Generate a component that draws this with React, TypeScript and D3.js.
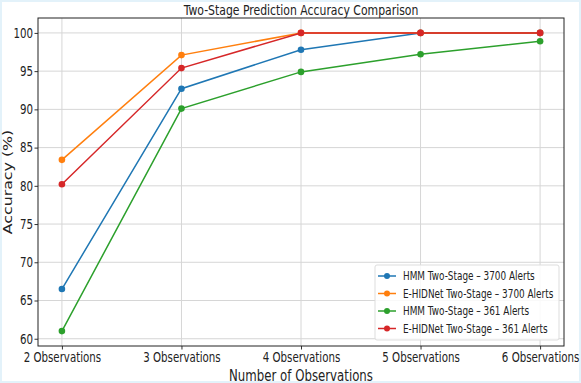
import React, { useEffect, useRef } from "react";
import * as d3 from "d3";

// x categories
const categories = ["2 Observations", "3 Observations", "4 Observations", "5 Observations", "6 Observations"];

// series values (accuracy %)
const hmm3700 = [66.5, 92.7, 97.8, 100, 100];
const ehid3700 = [83.4, 97.1, 100, 100, 100];
const hmm361 = [61.0, 90.1, 94.9, 97.2, 98.9];
const ehid361 = [80.2, 95.4, 100, 100, 100];

const seriesNames = [
  "HMM Two-Stage – 3700 Alerts",
  "E-HIDNet Two-Stage – 3700 Alerts",
  "HMM Two-Stage – 361 Alerts",
  "E-HIDNet Two-Stage – 361 Alerts",
];
const seriesColors = ["#1f77b4", "#ff7f0e", "#2ca02c", "#d62728"];
const yTicks = [60, 65, 70, 75, 80, 85, 90, 95, 100];

const W = 581;
const H = 383;
const FONT = "'DejaVu Sans', sans-serif";
const SX = 0.76; // the picture is squeezed sideways

function App() {
  const ref = useRef<SVGSVGElement>(null);

  useEffect(() => {
    document.body.style.margin = "0";
    const svg = d3.select(ref.current);
    svg.selectAll("*").remove();

    const left = 38, right = 564, top = 18, bottom = 346;

    const x = d3.scaleLinear().domain([-0.2, categories.length - 1 + 0.2]).range([left, right]);
    const y = d3.scaleLinear().domain([59.05, 101.95]).range([bottom, top]);

    svg.append("rect").attr("width", W).attr("height", H).attr("fill", "white");
    // faint frame
    svg.append("rect")
      .attr("x", 1).attr("y", 1).attr("width", W - 2).attr("height", H - 2)
      .attr("fill", "none").attr("stroke", "#e3f2fa").attr("stroke-width", 2);

    // grid
    const grid = svg.append("g");
    grid.selectAll("line.gy").data(yTicks).enter().append("line")
      .attr("x1", left).attr("x2", right)
      .attr("y1", (d) => y(d)).attr("y2", (d) => y(d))
      .attr("stroke", "#d6d6d6").attr("stroke-width", 1);
    grid.selectAll("line.gx").data(categories).enter().append("line")
      .attr("y1", top).attr("y2", bottom)
      .attr("x1", (d, i) => x(i)).attr("x2", (d, i) => x(i))
      .attr("stroke", "#d6d6d6").attr("stroke-width", 1);

    // axes
    const yAxis = d3.axisLeft(y).tickValues(yTicks).tickSize(3.5).tickPadding(3);
    const gy = svg.append("g").attr("transform", `translate(${left},0)`).call(yAxis);
    const xAxis = d3.axisBottom(x).tickValues(d3.range(categories.length))
      .tickFormat((d) => categories[d as number]).tickSize(3.5).tickPadding(3);
    const gx = svg.append("g").attr("transform", `translate(0,${bottom})`).call(xAxis);
    [gx, gy].forEach((g) => {
      g.select(".domain").remove();
      g.selectAll("line").attr("stroke", "#333");
      g.selectAll("text").attr("font-family", FONT).attr("font-size", 13.5).attr("fill", "#222");
    });
    gx.selectAll("text").attr("transform", `scale(${SX},1)`);
    gy.selectAll("text").attr("x", 0).attr("transform", `translate(-5,0) scale(${SX},1)`);

    // frame
    svg.append("rect")
      .attr("x", left).attr("y", top).attr("width", right - left).attr("height", bottom - top)
      .attr("fill", "none").attr("stroke", "#222").attr("stroke-width", 1);

    // lines
    const allSeries = [hmm3700, ehid3700, hmm361, ehid361];
    const line = d3.line<number>().x((d, i) => x(i)).y((d) => y(d));
    allSeries.forEach((s, k) => {
      svg.append("path").datum(s)
        .attr("fill", "none").attr("stroke", seriesColors[k]).attr("stroke-width", 1.5)
        .attr("d", line);
      svg.append("g").selectAll("circle").data(s).enter().append("circle")
        .attr("cx", (d, i) => x(i)).attr("cy", (d) => y(d)).attr("r", 3.3)
        .attr("fill", seriesColors[k]);
    });

    // title and labels
    svg.append("text").attr("transform", `translate(${(left + right) / 2},15) scale(${SX},1)`)
      .attr("text-anchor", "middle").attr("font-family", FONT).attr("font-size", 14.3)
      .attr("fill", "#222").text("Two-Stage Prediction Accuracy Comparison");
    svg.append("text").attr("transform", `translate(${(left + right) / 2},381) scale(${SX},1)`)
      .attr("text-anchor", "middle").attr("font-family", FONT).attr("font-size", 15.5)
      .attr("fill", "#222").text("Number of Observations");
    svg.append("text").attr("transform", `translate(11.5,182) rotate(-90) scale(1,${SX})`)
      .attr("text-anchor", "middle").attr("font-family", FONT).attr("font-size", 15.8)
      .attr("fill", "#222").text("Accuracy (%)");

    // legend
    const lg = svg.append("g");
    lg.append("rect").attr("x", 375).attr("y", 265).attr("width", 184).attr("height", 75).attr("rx", 2)
      .attr("fill", "white").attr("fill-opacity", 0.85).attr("stroke", "#ddd");
    seriesNames.forEach((name, k) => {
      const ly = 276 + k * 17.5;
      lg.append("line").attr("x1", 378).attr("x2", 396).attr("y1", ly).attr("y2", ly)
        .attr("stroke", seriesColors[k]).attr("stroke-width", 1.5);
      lg.append("circle").attr("cx", 387).attr("cy", ly).attr("r", 3).attr("fill", seriesColors[k]);
      lg.append("text").attr("transform", `translate(403,${ly}) scale(${SX},1)`).attr("dy", "0.36em")
        .attr("font-family", FONT).attr("font-size", 11.7).attr("fill", "#222").text(name);
    });
  }, []);

  return <svg ref={ref} width={W} height={H} style={{ display: "block" }} />;
}

export default App;
